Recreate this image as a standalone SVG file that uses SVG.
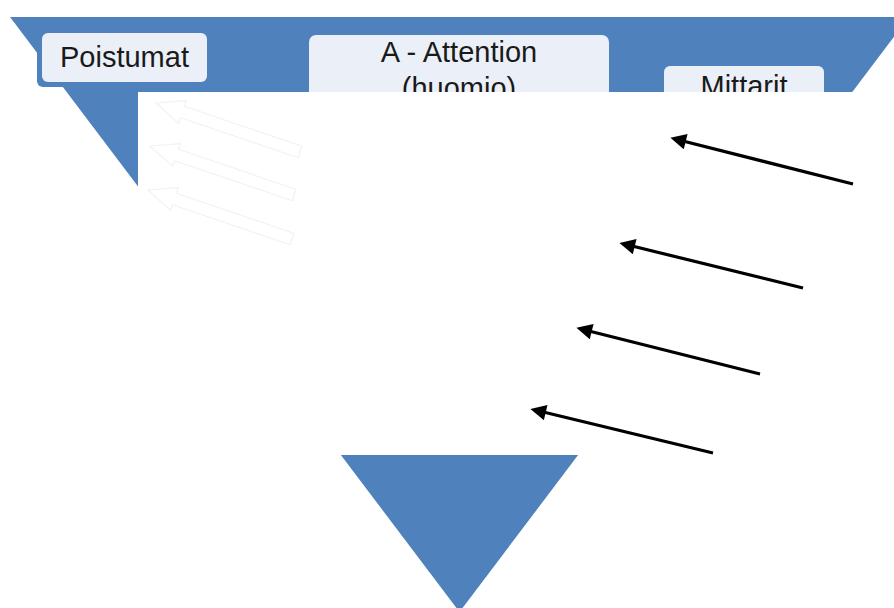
<svg xmlns="http://www.w3.org/2000/svg" width="894" height="608" viewBox="0 0 894 608">
  <defs>
    <style>
      .funnel { fill: #4F81BD; }
      .shadow { fill: #4F81BD; }
      .box { fill: #EBF0F8; }
      .label { font-family: "Liberation Sans", Arial, sans-serif; font-size: 29px; fill: #1a1a1a; text-anchor: middle; }
      .cover { fill: #FFFFFF; }
      .ghost { fill: #FFFFFF; stroke: #F2F2F2; stroke-width: 1.2; stroke-linejoin: round; }
      .conn { stroke: #000000; stroke-width: 3.2; fill: none; marker-end: url(#ah); }
    </style>
    <marker id="ah" viewBox="0 0 10 10" refX="7" refY="5" markerWidth="5.6" markerHeight="4.9" orient="auto" markerUnits="strokeWidth">
      <path d="M0,0 L10,5 L0,10 Z" fill="#000000"/>
    </marker>
    <polygon id="ghostArrow" class="ghost" points="156,103 186.4,100.6 184.4,106.3 301.9,146.3 298.1,157.7 180.6,117.7 178.6,123.4"/>
  </defs>
  <rect width="894" height="608" fill="#FFFFFF"/>

  <g id="funnel">
    <polygon class="funnel" points="10,17 909,17 459.5,612"/>
  </g>

  <g id="node-poistumat">
    <rect class="shadow" x="37" y="38" width="165" height="49" rx="6"/>
    <rect class="box" x="42" y="33" width="165" height="49" rx="6"/>
    <text class="label" x="124.5" y="67">Poistumat</text>
  </g>

  <g id="node-attention">
    <rect class="shadow" x="304" y="40" width="300" height="86" rx="7"/>
    <rect class="box" x="309" y="35" width="300" height="86" rx="7"/>
    <text class="label" x="459" y="62">A - Attention</text>
    <text class="label" x="459" y="98">(huomio)</text>
  </g>

  <g id="node-mittarit">
    <rect class="shadow" x="659" y="71" width="160" height="49" rx="6"/>
    <rect class="box" x="664" y="66" width="160" height="49" rx="6"/>
    <text class="label" x="744" y="96">Mittarit</text>
  </g>

  <g id="cover">
    <rect class="cover" x="138" y="92" width="756" height="363"/>
  </g>

  <g id="ghost-arrows">
    <use href="#ghostArrow"/>
    <use href="#ghostArrow" transform="translate(-6,43)"/>
    <use href="#ghostArrow" transform="translate(-8,87)"/>
  </g>

  <g id="connectors">
    <line class="conn" x1="853" y1="184" x2="675" y2="139"/>
    <line class="conn" x1="803" y1="288" x2="624" y2="244"/>
    <line class="conn" x1="760" y1="374" x2="581" y2="329"/>
    <line class="conn" x1="713" y1="453" x2="535" y2="410"/>
  </g>
</svg>
